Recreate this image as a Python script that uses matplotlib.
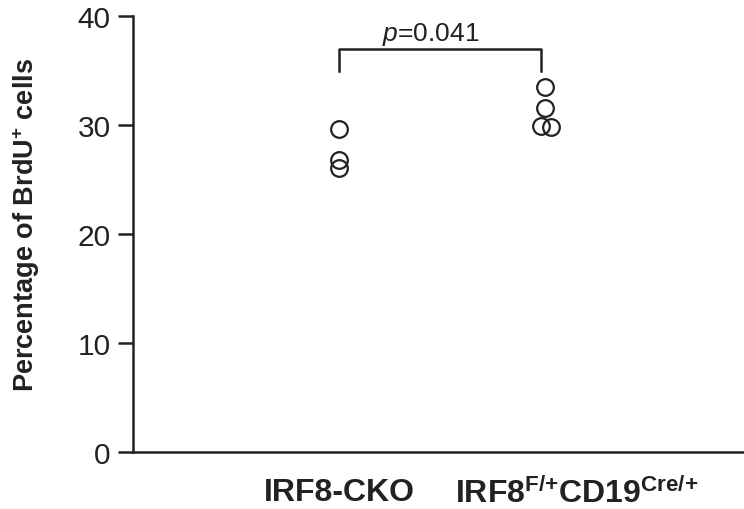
import matplotlib
matplotlib.use("Agg")
import matplotlib.pyplot as plt

plt.rcParams['font.family'] = ['Liberation Sans', 'DejaVu Sans']
plt.rcParams['mathtext.fontset'] = 'custom'
plt.rcParams['mathtext.rm'] = 'Liberation Sans'
plt.rcParams['mathtext.it'] = 'Liberation Sans:italic'
plt.rcParams['mathtext.bf'] = 'Liberation Sans:bold'

categories = ["IRF8-CKO", r"$\mathbf{IRF8^{F/{+}}CD19^{Cre/{+}}}$"]
cko_x = [1.0, 1.0, 1.0]
cko_y = [29.6, 26.8, 26.1]
ctrl_x = [2.0, 2.0, 1.98, 2.03]
ctrl_y = [33.5, 31.6, 29.9, 29.8]
yticks = [0, 10, 20, 30, 40]
p_text = r"$\it{p}$=0.041"
ylabel = r"Percentage of BrdU$^{\mathbf{+}}$ cells"

col = '#222222'
fig = plt.figure(figsize=(7.44, 5.10), dpi=100)
ax = fig.add_axes([133/744, 57/510, (744-133)/744 + 0.01, 436/510])
ax.set_xlim(0, 3.0)
ax.set_ylim(0, 40)

ax.plot(cko_x, cko_y, 'o', mfc='none', mec=col, ms=12, mew=1.6, clip_on=False)
ax.plot(ctrl_x, ctrl_y, 'o', mfc='none', mec=col, ms=12, mew=1.6, clip_on=False)

# significance bracket
ax.plot([1, 1, 1.98, 1.98], [35.0, 37.0, 37.0, 35.0], color=col, lw=1.8)
ax.text(1.445, 37.15, p_text, ha='center', va='bottom', fontsize=19, color=col)

ax.spines['top'].set_visible(False)
ax.spines['right'].set_visible(False)
for s in ['left', 'bottom']:
    ax.spines[s].set_linewidth(1.8)
    ax.spines[s].set_color(col)

ax.set_yticks(yticks)
ax.set_yticklabels([str(v) for v in yticks], fontsize=21.5, color=col)
ax.tick_params(axis='y', direction='out', length=11, width=1.8, color=col, pad=5)
ax.set_xticks([1, 2.15])
ax.set_xticklabels(categories, fontsize=23, fontweight='bold', color=col)
ax.tick_params(axis='x', length=0, pad=18)
ax.set_ylabel(ylabel, fontsize=19.5, fontweight='bold', color=col,
              va='center', ha='center')
ax.yaxis.set_label_coords(-0.172, 0.522)

fig.savefig('out.png', dpi=100)
